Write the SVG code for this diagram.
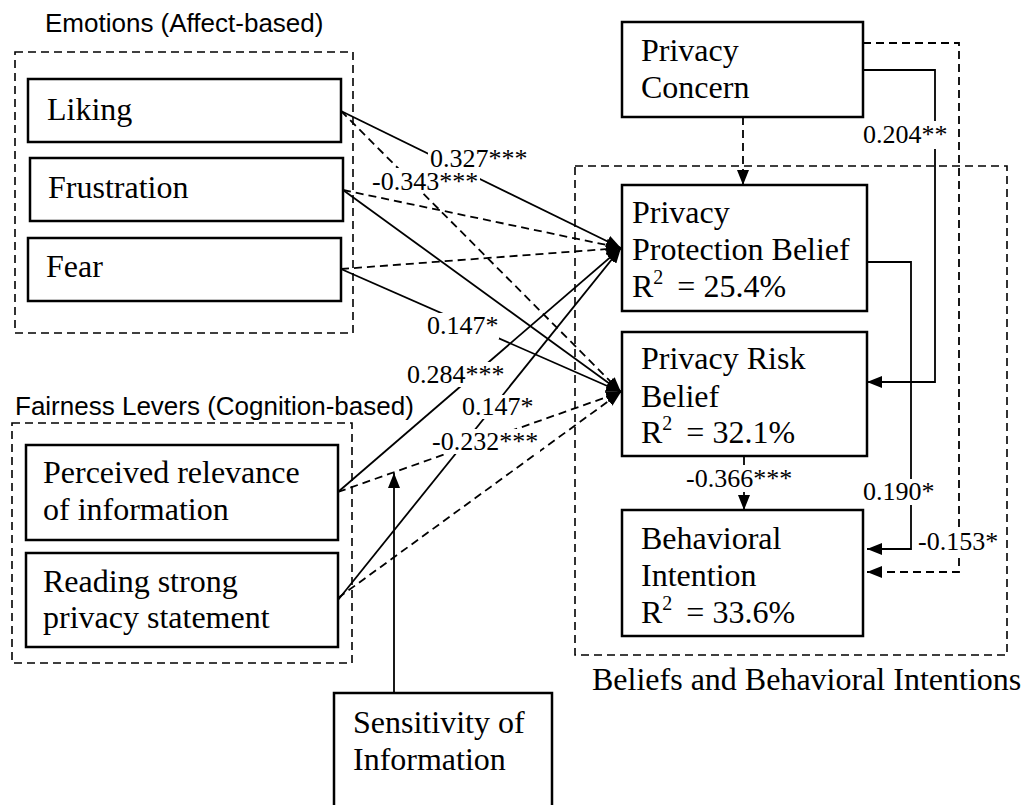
<svg xmlns="http://www.w3.org/2000/svg" width="1026" height="805" viewBox="0 0 1026 805">
<style>
.box{fill:#fff;stroke:#000;stroke-width:2.5}
.grp{fill:none;stroke:#000;stroke-width:1.6;stroke-dasharray:8,5}
.t{font-family:"Liberation Serif","Times New Roman",serif;font-size:32px;fill:#000}
.s{font-family:"Liberation Sans",Arial,sans-serif;font-size:26px;fill:#000}
.lab{font-family:"Liberation Serif","Times New Roman",serif;font-size:26px;fill:#000}
.lb{fill:#fff;stroke:none}
.c{fill:none;stroke:#000;stroke-width:1.8}
.d{stroke-dasharray:8,5}
.a{marker-end:url(#ah)}
</style>
<defs>
<marker id="ah" markerUnits="userSpaceOnUse" markerWidth="15" markerHeight="12" viewBox="0 0 15 12" refX="15" refY="6" orient="auto">
<path d="M0,0 L15,6 L0,12 z" fill="#000" stroke="none"/>
</marker>
</defs>
<rect width="1026" height="805" fill="#fff"/>

<g id="emotions-group">
<text class="s" x="45" y="32">Emotions (Affect-based)</text>
<rect class="grp" x="15" y="52" width="338" height="281"/>
</g>
<g id="fairness-group">
<text class="s" x="15" y="415">Fairness Levers (Cognition-based)</text>
<rect class="grp" x="12" y="423" width="340" height="240"/>
</g>
<g id="beliefs-group">
<rect class="grp" x="575" y="166" width="432" height="489"/>
<text class="t" x="592" y="690">Beliefs and Behavioral Intentions</text>
</g>

<g id="connectors">
<path class="c a" d="M341,111 L621,248"/>
<path class="c d a" d="M341,111 L621,392"/>
<path class="c d a" d="M343,190 L621,248"/>
<path class="c a" d="M343,190 L621,392"/>
<path class="c d a" d="M341,269 L621,248"/>
<path class="c a" d="M341,269 L621,392"/>
<path class="c a" d="M338,492 L621,248"/>
<path class="c d a" d="M338,492 L621,392"/>
<path class="c a" d="M338,600 L621,248"/>
<path class="c d a" d="M338,598 L621,392"/>
<path class="c a" d="M394,693 L394,473"/>
<path class="c d a" d="M743,117 L743,185"/>
<path class="c a" d="M863,70 H935 V382 H867"/>
<path class="c d a" d="M863,43 H959 V572 H867"/>
<path class="c a" d="M867,262 H911 V549 H867"/>
<path class="c a" d="M744,456 V510"/>

<rect class="lb" x="428" y="146" width="103" height="25"/>
<text class="lab" x="430" y="167">0.327***</text>
<rect class="lb" x="369" y="168" width="111" height="25"/>
<text class="lab" x="372" y="190">-0.343***</text>
<rect class="lb" x="425" y="313" width="74" height="26"/>
<text class="lab" x="427" y="334">0.147*</text>
<rect class="lb" x="405" y="362" width="103" height="25"/>
<text class="lab" x="407" y="383">0.284***</text>
<rect class="lb" x="460" y="395" width="75" height="24"/>
<text class="lab" x="462" y="415">0.147*</text>
<rect class="lb" x="430" y="429" width="110" height="25"/>
<text class="lab" x="432" y="450">-0.232***</text>
<rect class="lb" x="861" y="121" width="89" height="28"/>
<text class="lab" x="863" y="143">0.204**</text>
<rect class="lb" x="684" y="465" width="111" height="27"/>
<text class="lab" x="686" y="487">-0.366***</text>
<rect class="lb" x="861" y="479" width="75" height="26"/>
<text class="lab" x="863" y="500">0.190*</text>
<rect class="lb" x="915" y="529" width="86" height="26"/>
<text class="lab" x="918" y="550">-0.153*</text>
</g>

<g id="liking">
<rect class="box" x="28" y="79" width="313" height="63"/>
<text class="t" x="47" y="120">Liking</text>
</g>
<g id="frustration">
<rect class="box" x="30" y="158" width="313" height="63"/>
<text class="t" x="48" y="198">Frustration</text>
</g>
<g id="fear">
<rect class="box" x="28" y="238" width="313" height="63"/>
<text class="t" x="46" y="277">Fear</text>
</g>
<g id="perceived-relevance">
<rect class="box" x="26" y="445" width="312" height="95"/>
<text class="t" x="43" y="483">Perceived relevance</text>
<text class="t" x="43" y="520">of information</text>
</g>
<g id="reading-statement">
<rect class="box" x="26" y="553" width="312" height="94"/>
<text class="t" x="43" y="592">Reading strong</text>
<text class="t" x="43" y="628">privacy statement</text>
</g>
<g id="sensitivity">
<rect class="box" x="334" y="693" width="218" height="130"/>
<text class="t" x="353" y="733">Sensitivity of</text>
<text class="t" x="353" y="770">Information</text>
</g>
<g id="privacy-concern">
<rect class="box" x="622" y="22" width="241" height="95"/>
<text class="t" x="641" y="61">Privacy</text>
<text class="t" x="641" y="98">Concern</text>
</g>
<g id="protection-belief">
<rect class="box" x="622" y="185" width="245" height="126"/>
<text class="t" x="632" y="223">Privacy</text>
<text class="t" x="632" y="260">Protection Belief</text>
<text class="t" x="632" y="297">R<tspan font-size="20" dy="-13">2</tspan><tspan dy="13" dx="14">= 25.4%</tspan></text>
</g>
<g id="risk-belief">
<rect class="box" x="622" y="332" width="245" height="124"/>
<text class="t" x="641" y="369">Privacy Risk</text>
<text class="t" x="641" y="407">Belief</text>
<text class="t" x="641" y="443">R<tspan font-size="20" dy="-13">2</tspan><tspan dy="13" dx="14">= 32.1%</tspan></text>
</g>
<g id="behavioral-intention">
<rect class="box" x="622" y="510" width="241" height="126"/>
<text class="t" x="641" y="549">Behavioral</text>
<text class="t" x="641" y="586">Intention</text>
<text class="t" x="641" y="623">R<tspan font-size="20" dy="-13">2</tspan><tspan dy="13" dx="14">= 33.6%</tspan></text>
</g>
</svg>
